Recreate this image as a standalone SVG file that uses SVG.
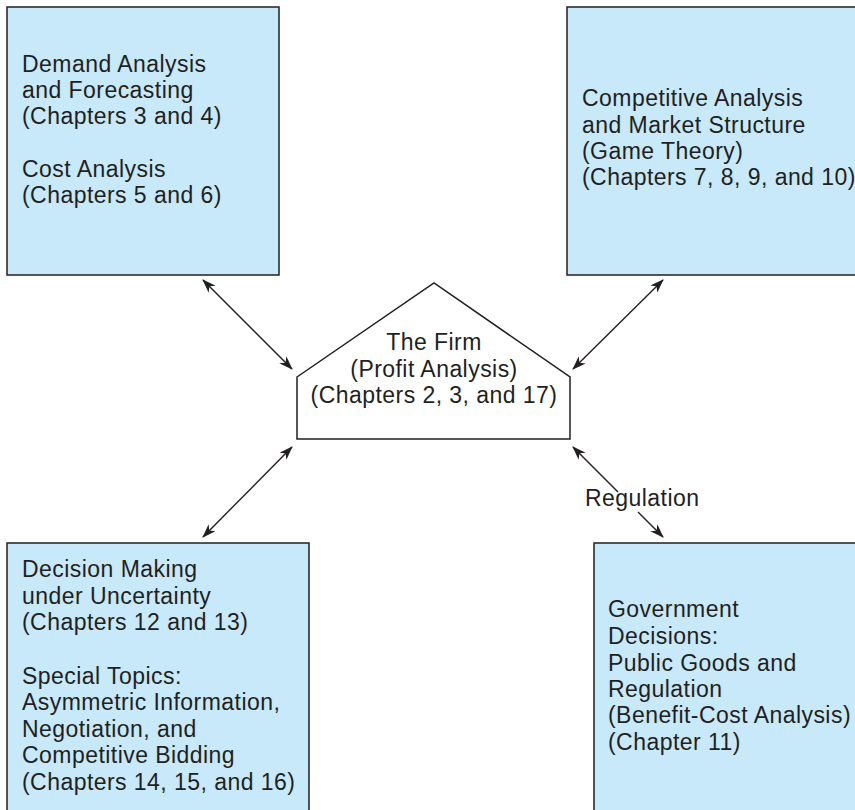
<svg xmlns="http://www.w3.org/2000/svg" width="855" height="810" viewBox="0 0 855 810">
<defs>
<marker id="ah" viewBox="0 0 14 10" refX="13" refY="5" markerWidth="14" markerHeight="10" markerUnits="userSpaceOnUse" orient="auto-start-reverse">
<path d="M0,0 L14,5 L0,10 L4,5 z" fill="#231f20"/>
</marker>
<style>
.box{fill:#c7e9f9;stroke:#231f20;stroke-width:1.5}
.firm{fill:#ffffff;stroke:#231f20;stroke-width:1.5}
.t{font-family:"Liberation Sans",Arial,sans-serif;font-size:23px;letter-spacing:0.45px;fill:#231f20}
.c{text-anchor:middle}
.ln{stroke:#231f20;stroke-width:1.4;fill:none}
</style>
</defs>
<rect width="855" height="810" fill="#ffffff"/>
<g id="demand">
<rect class="box" x="7" y="7" width="272" height="268"/>
<text class="t" x="22" y="72">Demand Analysis</text>
<text class="t" x="22" y="98">and Forecasting</text>
<text class="t" x="22" y="124">(Chapters 3 and 4)</text>
<text class="t" x="22" y="177">Cost Analysis</text>
<text class="t" x="22" y="203">(Chapters 5 and 6)</text>
</g>
<g id="competitive">
<rect class="box" x="567" y="7" width="300" height="268"/>
<text class="t" x="582" y="106">Competitive Analysis</text>
<text class="t" x="582" y="133">and Market Structure</text>
<text class="t" x="582" y="159">(Game Theory)</text>
<text class="t" x="582" y="185">(Chapters 7, 8, 9, and 10)</text>
</g>
<g id="decision">
<rect class="box" x="7" y="543" width="302" height="280"/>
<text class="t" x="22" y="577">Decision Making</text>
<text class="t" x="22" y="604">under Uncertainty</text>
<text class="t" x="22" y="630">(Chapters 12 and 13)</text>
<text class="t" x="22" y="684">Special Topics:</text>
<text class="t" x="22" y="710">Asymmetric Information,</text>
<text class="t" x="22" y="737">Negotiation, and</text>
<text class="t" x="22" y="763">Competitive Bidding</text>
<text class="t" x="22" y="790">(Chapters 14, 15, and 16)</text>
</g>
<g id="government">
<rect class="box" x="594" y="543" width="280" height="280"/>
<text class="t" x="608" y="617">Government</text>
<text class="t" x="608" y="644">Decisions:</text>
<text class="t" x="608" y="671">Public Goods and</text>
<text class="t" x="608" y="697">Regulation</text>
<text class="t" x="608" y="723">(Benefit-Cost Analysis)</text>
<text class="t" x="608" y="750">(Chapter 11)</text>
</g>
<g id="firm">
<polygon class="firm" points="297,377 434,283 570,377 570,439 297,439"/>
<text class="t c" x="434" y="350">The Firm</text>
<text class="t c" x="434" y="377">(Profit Analysis)</text>
<text class="t c" x="434" y="403">(Chapters 2, 3, and 17)</text>
</g>
<g id="connectors">
<line class="ln" x1="203" y1="280" x2="292" y2="369" marker-start="url(#ah)" marker-end="url(#ah)"/>
<line class="ln" x1="663" y1="280" x2="573" y2="369" marker-start="url(#ah)" marker-end="url(#ah)"/>
<line class="ln" x1="292" y1="447" x2="203" y2="537" marker-start="url(#ah)" marker-end="url(#ah)"/>
<line class="ln" x1="573" y1="447" x2="618" y2="492" marker-start="url(#ah)"/>
<line class="ln" x1="638" y1="512" x2="663" y2="537" marker-end="url(#ah)"/>
<text class="t" x="585" y="506">Regulation</text>
</g>
</svg>
